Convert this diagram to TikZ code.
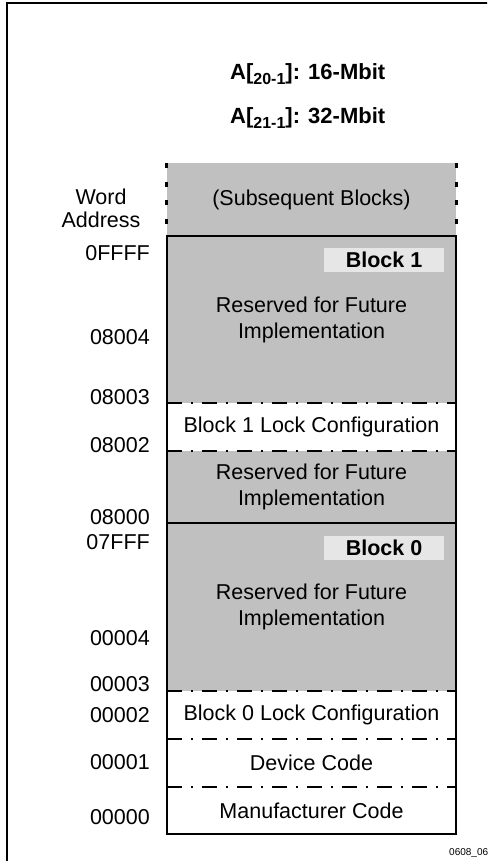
\documentclass[tikz,border=0pt]{standalone}
\usepackage{fontspec}
\setmainfont{Liberation Sans}
\usepackage{tikz}
\definecolor{memgray}{HTML}{C0C0C0}
\definecolor{lblgray}{HTML}{E6E6E6}
\newcommand{\bodyfont}{\fontsize{21.5}{26}\selectfont}
\newcommand{\addrsub}[1]{\raisebox{-5pt}{\fontsize{16}{18}\selectfont #1}}
\tikzstyle{cell} = [rectangle,inner sep=0,minimum width=289,align=center,font=\bodyfont]
\tikzstyle{addr} = [anchor=east,inner sep=0,font=\bodyfont]
\tikzstyle{title} = [inner sep=0,font=\fontsize{22}{26}\selectfont\bfseries]
\tikzstyle{blk} = [rectangle,fill=lblgray,inner sep=0,minimum width=120,minimum height=24,font=\bodyfont\bfseries]
\tikzstyle{border} = [line width=2]
\tikzstyle{dashdot} = [line width=2,dash pattern=on 15 off 9 on 2 off 9]
\tikzstyle{dotside} = [line width=3,dash pattern=on 5 off 13.7]

\begin{document}
\begin{tikzpicture}[x=1pt,y=-1pt]
  \clip (0,0) rectangle (487,861);
  \draw[line width=2.5] (7,3) rectangle (520,900);

  \node[title,anchor=base west] (t16) at (230,80) {A[\addrsub{20-1}]: 16-Mbit};
  \node[title,anchor=base west] (t32) at (230,124) {A[\addrsub{21-1}]: 32-Mbit};

  % memory column
  \node[cell,fill=memgray,minimum height=73] (subs) at (311.5,199.5) {(Subsequent Blocks)};
  \node[cell,fill=memgray,minimum height=167] (r1) at (311.5,319.5) {Reserved for Future\\Implementation};
  \node[cell,fill=white,minimum height=48] (lk1) at (311.5,427) {Block 1 Lock Configuration};
  \node[cell,fill=memgray,minimum height=72] (r2) at (311.5,487) {Reserved for Future\\Implementation};
  \node[cell,fill=memgray,minimum height=168] (r0) at (311.5,607) {Reserved for Future\\Implementation};
  \node[cell,fill=white,minimum height=48] (lk0) at (311.5,715) {Block 0 Lock Configuration};
  \node[cell,fill=white,minimum height=48] (dev) at (311.5,763) {Device Code};
  \node[cell,fill=white,minimum height=47] (mfr) at (311.5,810.5) {Manufacturer Code};

  \node[blk] (b1) at (384,260) {Block 1};
  \node[blk] (b0) at (384,547.5) {Block 0};

  \draw[dotside] (subs.north west) -- (subs.south west);
  \draw[dotside] (subs.north east) -- (subs.south east);
  \draw[border] (r1.north west) rectangle (mfr.south east);
  \draw[border] (r0.north west) -- (r0.north east);
  \draw[dashdot] (lk1.north west) -- (lk1.north east);
  \draw[dashdot] (lk1.south west) -- (lk1.south east);
  \draw[dashdot] (lk0.north west) -- (lk0.north east);
  \draw[dashdot] (dev.north west) -- (dev.north east);
  \draw[dashdot] (mfr.north west) -- (mfr.north east);

  % addresses
  \node[align=center,inner sep=0,font=\fontsize{21.5}{23}\selectfont] (wa) at (101,208.5) {Word\\Address};
  \node[addr] (a0ffff) at (150,253) {0FFFF};
  \node[addr] (a08004) at (150,337) {08004};
  \node[addr] (a08003) at (150,397) {08003};
  \node[addr] (a08002) at (150,445) {08002};
  \node[addr] (a08000) at (150,517) {08000};
  \node[addr] (a07fff) at (150,542) {07FFF};
  \node[addr] (a00004) at (150,638) {00004};
  \node[addr] (a00003) at (150,684) {00003};
  \node[addr] (a00002) at (150,715) {00002};
  \node[addr] (a00001) at (150,762) {00001};
  \node[addr] (a00000) at (150,817) {00000};

  \node[anchor=west,inner sep=0,font=\fontsize{10}{12}\selectfont] (fig) at (449,853) {0608\_06};
\end{tikzpicture}
\end{document}
